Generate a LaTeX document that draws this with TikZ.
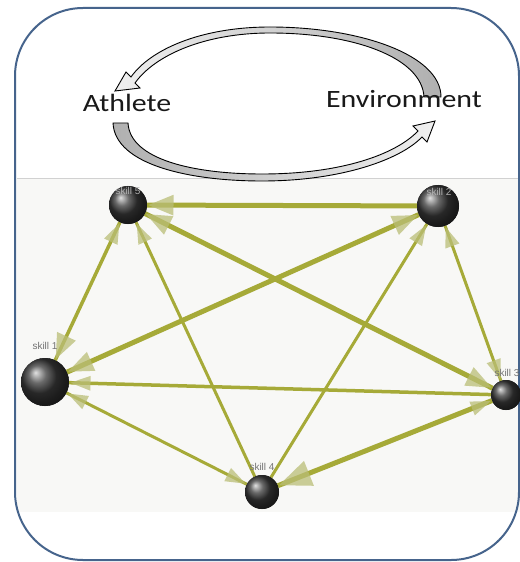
\documentclass[tikz,border=0pt]{standalone}
\usepackage{fontspec}
\usetikzlibrary{arrows.meta}
\newfontfamily\capfont[FakeStretch=1.2]{Carlito}
\newfontfamily\lblfont{Liberation Sans}
\definecolor{boxblue}{RGB}{70,100,140}
\definecolor{edgeol}{RGB}{166,170,56}
\definecolor{headol}{RGB}{186,190,118}
\definecolor{panel}{RGB}{248,248,246}
\tikzset{
  hs/.tip={Triangle[length=22bp,width=16bp,color=headol]},
  hm/.tip={Triangle[length=27bp,width=22bp,color=headol]},
  hb/.tip={Triangle[length=34bp,width=28bp,color=headol]},
  link/.style={draw=edgeol, line width=#1},
  tipsonly/.style={draw=headol, draw opacity=0, fill opacity=0.75, line width=1bp},
  sphere/.style={circle, inner sep=0pt, outer sep=0pt, minimum size=#1,
                 shading=ball, ball color=black!78},
  skilllbl/.style={font=\lblfont\fontsize{10}{10}\selectfont, text=black!55},
  onball/.style={text=black!30},
  bigword/.style={font=\capfont\fontsize{25}{30}\selectfont, anchor=base, text=black!90},
  cycarrow/.style={draw=black, line width=0.9bp}
}
\begin{document}
\begin{tikzpicture}[x=1bp,y=-1bp]
\useasboundingbox (0,0) rectangle (520,562);
\fill[white] (0,0) rectangle (520,562);

% network panel
\fill[panel] (17,178) rectangle (520,512);
\draw[black!18, line width=0.6bp] (17,178) -- (520,178);

% outer rounded frame
\draw[boxblue, line width=2bp, rounded corners=68bp] (15,8) rectangle (519,560);

% Athlete / Environment cycle
\draw[cycarrow, left color=gray!12, right color=gray!62]
  (441,97) .. controls (441,55) and (360,27) .. (270,27)
  .. controls (200,27) and (150,50) .. (131,77)
  -- (126,72) -- (115,91) -- (140,88) -- (135,83)
  .. controls (155,55) and (205,33) .. (270,33)
  .. controls (355,33) and (422,58) .. (424,97) -- cycle;
\draw[cycarrow, left color=gray!62, right color=gray!12]
  (113,123) .. controls (115,165) and (190,181) .. (262,181)
  .. controls (340,181) and (400,160) .. (422,137)
  -- (427,142) -- (435,121) -- (413,126) -- (418,131)
  .. controls (395,155) and (340,174) .. (262,174)
  .. controls (195,174) and (130,160) .. (128,123) -- cycle;

\node[bigword] (ath) at (127,112) {Athlete};
\node[bigword] (env) at (404,108) {Environment};

% skill spheres (placed first so links can refer to them)
\node[sphere=48bp] (s1) at (45,382) {};
\node[sphere=42bp] (s2) at (438,206) {};
\node[sphere=30bp] (s3) at (506,395) {};
\node[sphere=34bp] (s4) at (262,492) {};
\node[sphere=38bp] (s5) at (128,205) {};

% link lines
\draw[link=5bp] (s2) -- (s5);
\draw[link=3.5bp] (s1) -- (s5);
\draw[link=5bp] (s1) -- (s2);
\draw[link=5bp] (s5) -- (s3);
\draw[link=3bp] (s4) -- (s5);
\draw[link=3bp] (s4) -- (s2);
\draw[link=3bp] (s2) -- (s3);
\draw[link=3.5bp] (s3) -- (s1);
\draw[link=3bp] (s1) -- (s4);
\draw[link=5bp] (s3) -- (s4);

% arrowheads
\draw[tipsonly, -hm] (s2) -- (s5);
\draw[tipsonly, hs-hm] (s5) -- (s1);
\draw[tipsonly, hm-hm] (s1) -- (s2);
\draw[tipsonly, hm-hm] (s5) -- (s3);
\draw[tipsonly, -hs] (s4) -- (s5);
\draw[tipsonly, -hs] (s4) -- (s2);
\draw[tipsonly, hs-hs] (s2) -- (s3);
\draw[tipsonly, -hs] (s3) -- (s1);
\draw[tipsonly, hs-hs] (s4) -- (s1);
\draw[tipsonly, hs-hb] (s3) -- (s4);

% spheres drawn again on top of the links
\node[sphere=48bp] at (s1) {};
\node[sphere=42bp] at (s2) {};
\node[sphere=30bp] at (s3) {};
\node[sphere=34bp] at (s4) {};
\node[sphere=38bp] at (s5) {};

% labels
\node[skilllbl, onball] (l5) at (128,191) {skill 5};
\node[skilllbl, onball] (l2) at (439,192) {skill 2};
\node[skilllbl] (l1) at (45,346) {skill 1};
\node[skilllbl] (l3) at (507,373) {skill 3};
\node[skilllbl] (l4) at (262,467) {skill 4};
\end{tikzpicture}
\end{document}
